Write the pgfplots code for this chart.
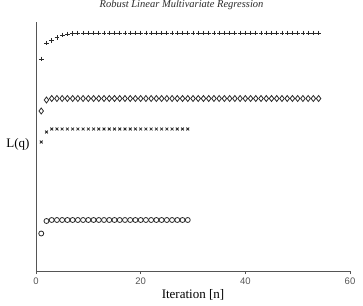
\documentclass[border=0pt]{standalone}
\usepackage{pgfplots}
\pgfplotsset{compat=1.18}
\usepackage{fontspec}
\setmainfont{Liberation Serif}
\newfontfamily\tickfont{Liberation Sans}
\definecolor{mk}{HTML}{2A2A2A}
\definecolor{ax}{HTML}{555555}
\begin{document}
\begin{tikzpicture}[x=1pt,y=1pt]
\begin{axis}[
  at={(0,0)}, anchor=south west,
  scale only axis, width=314pt, height=249pt,
  xmin=0, xmax=60, ymin=0, ymax=249,
  axis lines=left,
  axis line style={-, ax, line width=0.7pt},
  xtick={0,20,40,60}, ytick=\empty,
  tick align=outside, major tick length=3pt,
  tick style={ax, line width=0.6pt},
  ticklabel style={font=\tickfont\fontsize{9.5}{9.5}\selectfont, text=ax},
  /pgf/number format/assume math mode=true,
  xlabel={Iteration [n]},
  xlabel style={font=\fontsize{13}{13}\selectfont, at={(axis description cs:0.5,0)}, anchor=base, yshift=-27pt},
  ylabel={L(q)},
  ylabel style={font=\fontsize{13}{13}\selectfont, rotate=-90, at={(axis description cs:0,0.5)}, anchor=center, xshift=-18pt, yshift=2pt},
  clip=false,
]
\addplot[only marks, mark=+, mark size=2.4pt, mk, line width=0.8pt] coordinates {
(1,212)(2,228)(3,230.5)(4,233.5)(5,236)(6,237)(7,237.5)(8,238)(9,238)(10,238)
(11,238)(12,238)(13,238)(14,238)(15,238)(16,238)(17,238)(18,238)(19,238)(20,238)
(21,238)(22,238)(23,238)(24,238)(25,238)(26,238)(27,238)(28,238)(29,238)(30,238)
(31,238)(32,238)(33,238)(34,238)(35,238)(36,238)(37,238)(38,238)(39,238)(40,238)
(41,238)(42,238)(43,238)(44,238)(45,238)(46,238)(47,238)(48,238)(49,238)(50,238)
(51,238)(52,238)(53,238)(54,238)};
\addplot[only marks, mark=diamond, mark size=3pt, mk, line width=0.8pt] coordinates {
(1,160)(2,171)(3,172.5)(4,172.5)(5,172.5)(6,172.5)(7,172.5)(8,172.5)(9,172.5)(10,172.5)
(11,172.5)(12,172.5)(13,172.5)(14,172.5)(15,172.5)(16,172.5)(17,172.5)(18,172.5)(19,172.5)(20,172.5)
(21,172.5)(22,172.5)(23,172.5)(24,172.5)(25,172.5)(26,172.5)(27,172.5)(28,172.5)(29,172.5)(30,172.5)
(31,172.5)(32,172.5)(33,172.5)(34,172.5)(35,172.5)(36,172.5)(37,172.5)(38,172.5)(39,172.5)(40,172.5)
(41,172.5)(42,172.5)(43,172.5)(44,172.5)(45,172.5)(46,172.5)(47,172.5)(48,172.5)(49,172.5)(50,172.5)
(51,172.5)(52,172.5)(53,172.5)(54,172.5)};
\addplot[only marks, mark=x, mark size=2pt, mk, line width=0.8pt] coordinates {
(1,129)(2,139)(3,142)(4,142)(5,142)(6,142)(7,142)(8,142)(9,142)(10,142)
(11,142)(12,142)(13,142)(14,142)(15,142)(16,142)(17,142)(18,142)(19,142)(20,142)
(21,142)(22,142)(23,142)(24,142)(25,142)(26,142)(27,142)(28,142)(29,142)};
\addplot[only marks, mark=o, mark size=2.5pt, mk, line width=0.8pt] coordinates {
(1,37.5)(2,50)(3,51)(4,51)(5,51)(6,51)(7,51)(8,51)(9,51)(10,51)
(11,51)(12,51)(13,51)(14,51)(15,51)(16,51)(17,51)(18,51)(19,51)(20,51)
(21,51)(22,51)(23,51)(24,51)(25,51)(26,51)(27,51)(28,51)(29,51)};
\end{axis}
\node[anchor=base, font=\itshape\fontsize{10.5}{10.5}\selectfont, text=mk] at (145.5,263) {Robust Linear Multivariate Regression};
\pgfresetboundingbox
\path[use as bounding box] (-36,-34) rectangle (327,271);
\end{tikzpicture}
\end{document}
